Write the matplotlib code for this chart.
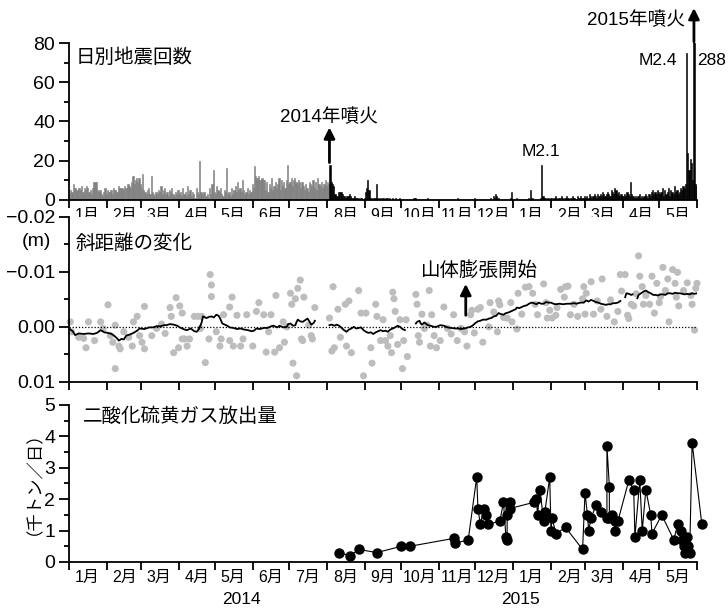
import numpy as np
import pandas as pd
import matplotlib
matplotlib.use("Agg")
import matplotlib.pyplot as plt
import matplotlib.dates as mdates
from matplotlib.ticker import FixedLocator, FixedFormatter, NullFormatter, MultipleLocator

plt.rcParams['font.family'] = ['Liberation Sans', 'Noto Sans CJK JP']

start = pd.Timestamp('2014-01-01')
end = pd.Timestamp('2015-06-01')
eruption_2014 = pd.Timestamp('2014-08-03')
eruption_2015 = pd.Timestamp('2015-05-29')

# daily earthquake counts, one list per month
q_2014_01 = [3, 5, 4, 8, 6, 6, 5, 6, 6, 5, 7, 4, 6, 5, 7, 6, 4, 5, 3, 6, 9, 9, 9, 5, 4, 5, 3, 2, 4, 6, 3]
q_2014_02 = [5, 4, 4, 5, 3, 6, 5, 5, 4, 7, 6, 6, 6, 5, 7, 6, 6, 8, 7, 6, 9, 12, 8, 10, 11, 9, 11, 8]
q_2014_03 = [6, 13, 5, 4, 3, 5, 6, 3, 12, 4, 3, 2, 4, 3, 5, 4, 7, 3, 5, 6, 3, 4, 2, 5, 4, 6, 3, 2, 4, 3, 5]
q_2014_04 = [3, 4, 2, 6, 3, 4, 2, 7, 3, 5, 2, 4, 3, 1, 6, 4, 3, 20, 4, 3, 4, 4, 2, 3, 1, 6, 3, 8, 15, 4]
q_2014_05 = [3, 7, 5, 4, 6, 3, 2, 5, 4, 16, 3, 4, 2, 6, 3, 5, 7, 4, 9, 5, 6, 4, 10, 5, 3, 4, 6, 3, 5, 4, 8]
q_2014_06 = [6, 17, 12, 11, 12, 10, 10, 11, 10, 10, 5, 9, 4, 8, 6, 11, 5, 7, 9, 6, 8, 11, 5, 10, 7, 9, 6, 10, 18, 8]
q_2014_07 = [9, 11, 7, 10, 11, 9, 8, 10, 9, 6, 9, 7, 5, 8, 6, 4, 9, 8, 7, 10, 6, 9, 5, 11, 8, 7, 9, 6, 8, 10, 7]
q_2014_08 = [9, 8, 18, 9, 8, 7, 3, 2, 2, 4, 4, 4, 3, 2, 2, 1, 2, 2, 3, 2, 1, 1, 2, 1, 1, 1, 0, 1, 1, 0, 1]
q_2014_09 = [4, 6, 10, 5, 1, 1, 0, 1, 1, 8, 1, 0, 1, 0, 1, 1, 0, 1, 1, 0, 1, 0, 1, 0, 0, 1, 0, 0, 1, 0]
q_2014_10 = [0, 0, 0, 0, 0, 0, 0, 0, 0, 0, 1, 1, 0, 0, 0, 0, 0, 0, 0, 0, 0, 1, 0, 0, 0, 0, 0, 0, 0, 0, 0]
q_2014_11 = [0, 0, 0, 0, 0, 0, 0, 0, 0, 0, 0, 0, 0, 0, 0, 1, 0, 0, 0, 0, 0, 0, 0, 0, 0, 0, 0, 0, 0, 1]
q_2014_12 = [0, 0, 0, 0, 0, 0, 0, 0, 0, 0, 0, 0, 1, 0, 2, 1, 3, 2, 1, 0, 0, 0, 0, 0, 0, 0, 0, 0, 1, 4, 0]
q_2015_01 = [0, 0, 1, 0, 0, 0, 0, 0, 0, 0, 0, 0, 1, 0, 5, 1, 0, 0, 0, 0, 0, 0, 1, 18, 2, 1, 1, 0, 1, 0, 1]
q_2015_02 = [1, 0, 1, 2, 1, 0, 1, 1, 2, 1, 0, 1, 2, 1, 1, 0, 1, 2, 1, 1, 0, 2, 1, 1, 2, 1, 1, 2]
q_2015_03 = [1, 2, 1, 3, 2, 1, 2, 3, 2, 1, 3, 2, 3, 2, 4, 3, 2, 3, 4, 3, 2, 5, 4, 3, 6, 5, 3, 4, 2, 3, 2]
q_2015_04 = [2, 3, 2, 4, 3, 2, 9, 3, 2, 1, 2, 1, 2, 3, 1, 2, 1, 2, 3, 2, 1, 3, 2, 4, 5, 3, 4, 3, 5, 4]
q_2015_05 = [3, 4, 6, 2, 5, 3, 4, 6, 2, 5, 4, 3, 7, 4, 5, 3, 4, 6, 5, 7, 6, 8, 75, 24, 15, 21, 19, 10, 288, 8, 7]

quake_months = [('2014-01', q_2014_01), ('2014-02', q_2014_02), ('2014-03', q_2014_03),
                ('2014-04', q_2014_04), ('2014-05', q_2014_05), ('2014-06', q_2014_06),
                ('2014-07', q_2014_07), ('2014-08', q_2014_08), ('2014-09', q_2014_09),
                ('2014-10', q_2014_10), ('2014-11', q_2014_11), ('2014-12', q_2014_12),
                ('2015-01', q_2015_01), ('2015-02', q_2015_02), ('2015-03', q_2015_03),
                ('2015-04', q_2015_04), ('2015-05', q_2015_05)]

# slope distance change: daily values (gray dots), days since 2014-01-01, mm
dot_day = [1, 2, 8, 12, 14, 16, 21, 26, 28, 32, 34, 36, 38, 38, 41, 42, 45, 49, 52, 53, 56, 58, 60, 62, 62, 68,
           72, 76, 79, 83, 84, 86, 88, 90, 91, 93, 93, 95, 97, 99, 103, 106, 108, 109, 112, 115, 116, 117, 117,
           121, 124, 125, 127, 132, 132, 134, 135, 138, 141, 143, 146, 151, 154, 156, 160, 162, 164, 166, 169,
           170, 173, 176, 177, 179, 182, 183, 184, 186, 187, 188, 190, 191, 192, 193, 197, 199, 200, 202,
           214, 216, 217, 218, 221, 223, 227, 228, 230, 232, 238, 240, 242,
           244, 248, 249, 252, 253, 256, 258, 260, 262, 264, 265, 266, 267, 268, 270, 272, 274, 275, 277, 278,
           285, 286, 287, 288, 290, 292, 294, 296, 297, 298, 300, 302, 305, 308, 311, 314, 316, 319, 322, 325,
           327, 330, 331, 333, 336, 338, 340, 345, 346, 349, 352, 353, 354, 357, 360, 363, 364, 368, 369, 372,
           375, 378, 381, 383, 385, 390, 392, 393, 395, 397, 400, 401, 404, 407, 408, 410, 412, 415, 418, 422,
           423, 424, 425, 429, 431, 434, 437, 438, 442, 445, 448, 451, 453, 454, 457, 459, 460, 462, 464, 466,
           468, 469, 471, 472, 474, 477, 479, 481, 483, 485, 486, 488, 490, 492, 493, 496, 498, 499, 500, 501,
           505, 508, 511, 512, 514, 515, 516]
dot_mm = [-0.9, 0.9, 1.9, 2.1, 3.8, -0.9, 2.5, -0.9, 0.3, -4.0, 1.6, 2.8, -0.3, 7.6, 3.5, 4.0, 0.9, 1.9, 3.5, -0.9,
          -1.9, 1.6, 2.8, 4.0, -3.7, 1.6,
          0.3, -0.5, 1.2, -3.5, -1.9, 4.7, -5.3, 3.8, -3.8, -2.5, 2.2, 2.2, 3.5, 2.2, -1.9, -1.9, 0.3, -1.9, 6.5,
          2.2, -9.5, -7.6, -5.5,
          0.9, 3.5, 2.2, -2.2, 2.5, -3.6, -5.4, 3.5, -2.1, 3.5, 2.2, -2.2, 3.5, -2.8, -4.4, -2.2, 4.6, 0.9, -2.2, 4.6,
          -5.7, 3.8, -0.9, 2.8, 0.0, -6.1, -4.1, 6.6, -5.1, 8.9, -7.0, -8.5, 2.2, 2.5, -5.4, -0.3, 1.6, 2.2, -3.5,
          -1.6, 4.4, -7.3, 3.8, -3.2, 1.9, -4.1, 3.5, -4.7, 4.7, -6.6, -2.5, 8.9,
          -2.5, 3.8, 6.6, -4.1, -1.9, 2.5, -1.3, 2.5, 3.5, 1.6, 4.7, -6.3, -5.1, -2.8, 3.2, -1.3, 7.6, 2.5, -1.3, 5.4,
          -5.9, -4.1, 1.6, 2.8, -2.3, 0.3, -0.3, -6.6, 3.5, -2.2, 1.6, 3.8, 2.5, -3.6, 0.3, 1.3, -2.2, 2.5, 0.3, 0.9,
          3.5, -2.2, -3.0, 1.1, -3.2, -3.5, 2.8, 0.0, -4.4, -2.7, 0.9, -4.7, -4.0, -1.7, -1.6, -4.4, -0.9, 0.4, -6.1, -2.3,
          -7.2, -7.3, -6.1, -4.1, -2.2, -7.8, -4.4, -1.6, -3.0, -1.6, -2.1, -3.5, -6.8, -5.4, -7.3, -7.4, -2.2, -4.1, -1.9, -5.1,
          -7.3, -2.3, -6.1, -8.2, -2.3, -4.7, -3.2, -8.7, -1.9, -4.9, -0.9, -2.8, -9.5, -6.5, -9.5, -2.1, -1.5, -4.1, -3.8, -6.0,
          -12.9, -9.2, -7.3, -4.1, -5.7, -4.1, -9.2, -2.5, -7.9, -4.4, -5.5, -10.8, -6.6, -8.7, -0.9, -10.4, -7.9, -5.4, -9.9, -3.8,
          -6.6, -8.0, -5.7, -4.1, 0.6, -7.0, -7.9]

# smoothed slope distance change (black line), nan = no data
line_day = [0, 3, 5, 8, 12, 16, 20, 23, 26, 29, 32, 35, 37, 39, 41, 43, 45, 47, 50, 53, 56, 58, 62, 66, 69, 72,
            75, 78, 80, 83, 86, 89, 91, 93, 95, 97, 100, 103, 105, 107, 109, 110, 113, 115, 117, 119, 121, 123,
            124, 126, 128, 130, 132, 135, 138, 141, 144, 147, 150, 152, 154, 157, 160, 163, 166, 168, 171, 173,
            176, 179, 180, 182, 184, 186, 187, 188, 190, 192, 194, 196, 198, 199, 201, 202, 208,
            214, 216, 218, 220, 222, 224, 226, 228, 230, 232, 234, 236, 238, 240, 242, 244, 246, 248, 250, 252,
            254, 256, 258, 260, 262, 264, 266, 268, 270, 272, 274, 276, 280,
            285, 286, 288, 289, 290, 292, 293, 295, 297, 300, 302, 305, 308, 311, 314, 317, 320, 322, 325, 328,
            330, 332, 334, 336, 338, 340, 343, 345, 347, 349, 351, 353, 355, 357, 359, 361, 363, 365, 367, 368,
            370, 372, 374, 376, 378, 380, 382, 384, 386, 388, 390, 392, 394, 396, 398, 400, 403, 406, 409, 412,
            415, 417, 420, 423, 425, 427, 429, 431, 433, 435, 437, 439, 441, 443, 445, 447, 449, 451, 453, 455,
            457, 458, 460, 462, 463, 465,
            467, 468, 470, 472, 474, 476, 478, 480, 482, 484, 486, 488, 490, 492, 494, 496, 498, 500, 502, 504,
            506, 508, 510, 512, 514, 516]
line_mm = [0.3, 0.8, 1.5, 1.2, 1.3, 1.2, 1.3, 1.1, 0.6, 1.0, 1.1, 1.3, 1.6, 2.0, 2.5, 2.2, 2.3, 1.6, 1.4, 1.1, 0.7,
           0.3, 0.4, 0.1, 0.1, -0.1, -0.1, -0.3, -0.3, -0.5, -0.4, -0.2, 0.1, 0.3, 0.5, 0.6, 0.3, 0.8, 0.9, 0.3,
           -0.8, -1.9, -1.6, -1.8, -1.9, -1.7, -2.2, -2.0, -1.6, -0.6, -0.4, -0.2, 0.1, 0.2, 0.4, 0.3, 0.5, 0.6,
           0.8, 0.7, 0.3, 0.4, 0.2, 0.2, -0.1, -0.2, 0.1, -0.2, 0.1, 0.0, -0.5, -0.6, -0.2, -0.3, -0.9, -1.3, -1.0,
           -0.9, -1.2, -1.5, -0.8, -0.4, -0.7, -1.1, np.nan,
           -0.3, -0.4, -0.2, -0.4, -0.2, 0.2, 0.6, 0.9, 0.5, 0.3, 0.0, 0.3, 0.2, 0.1, 0.6, 0.9, 1.1, 1.0, 1.3, 1.0,
           0.8, 0.6, 0.8, 0.7, 0.9, 0.5, 0.3, 0.1, -0.2, 0.0, 0.4, 0.6, np.nan,
           -0.6, -0.9, -1.1, -0.6, -0.4, -0.8, -0.6, -0.3, -0.2, 0.0, 0.0, -0.3, -0.2, 0.1, 0.2, 0.3, 0.3, 0.4, 0.3,
           0.1, 0.0, -0.3, -0.7, -1.0, -1.1, -1.3, -1.3, -1.5, -1.6, -1.9, -2.0, -2.5, -2.3, -2.2, -2.5, -2.6, -2.8,
           -3.0, -3.2, -3.5, -3.4, -3.6, -3.8, -3.9, -4.2, -4.4, -4.3, -4.1, -4.4, -4.2, -4.2, -4.5, -4.4, -4.4, -4.2,
           -4.1, -4.2, -4.1, -4.2, -4.2, -4.3, -4.2, -4.4, -4.4, -4.8, -4.6, -4.9, -4.7, -4.5, -4.4, -4.2, -4.1, -4.0,
           -4.1, -4.1, -4.3, -4.3, -4.4, -4.7, np.nan,
           -5.4, -6.1, -6.0, -5.8, -5.9, np.nan,
           -5.2, -5.8, -6.1, -6.4, -6.6, -6.3, -6.1, -5.8, -5.8, -5.7, -5.9, -5.9, -5.8, -6.1, -6.1, -6.0, -6.2, -6.1,
           -6.1, -6.0, -5.9, -6.0, -5.9, -6.1, -6.0, -6.1]

# sulphur dioxide emission (thousand tons per day)
so2_dates = ['2014-08-11', '2014-08-20', '2014-08-27', '2014-09-11', '2014-10-01', '2014-10-08',
             '2014-11-13', '2014-11-14', '2014-11-25', '2014-12-02', '2014-12-03', '2014-12-05',
             '2014-12-08', '2014-12-10', '2014-12-11', '2014-12-21', '2014-12-24', '2014-12-26',
             '2014-12-27', '2014-12-27', '2014-12-29', '2014-12-29', '2015-01-18', '2015-01-20',
             '2015-01-21', '2015-01-23', '2015-01-26', '2015-01-27', '2015-01-31', '2015-02-01',
             '2015-02-02', '2015-02-05', '2015-02-13', '2015-02-27', '2015-03-01', '2015-03-03',
             '2015-03-04', '2015-03-06', '2015-03-10', '2015-03-14', '2015-03-19', '2015-03-19',
             '2015-03-21', '2015-03-21', '2015-03-23', '2015-03-26', '2015-03-26', '2015-03-28',
             '2015-04-06', '2015-04-10', '2015-04-11', '2015-04-15', '2015-04-17', '2015-04-20',
             '2015-04-24', '2015-04-25', '2015-05-03', '2015-05-13', '2015-05-16', '2015-05-19',
             '2015-05-20', '2015-05-21', '2015-05-22', '2015-05-24', '2015-05-25', '2015-05-26',
             '2015-05-28', '2015-06-05']
so2_vals = [0.3, 0.2, 0.4, 0.3, 0.5, 0.5,
            0.75, 0.6, 0.7, 2.7, 1.7, 1.2,
            1.7, 1.5, 1.2, 1.3, 1.9, 0.8,
            0.7, 1.5, 1.9, 1.7, 1.9, 2.0,
            1.5, 2.3, 1.3, 1.6, 2.7, 1.0,
            1.4, 0.9, 1.1, 0.4, 2.2, 1.5,
            1.0, 1.4, 1.8, 1.6, 1.4, 3.7,
            2.4, 1.4, 1.5, 1.0, 1.3, 1.3,
            2.6, 2.3, 0.8, 2.6, 1.0, 2.3,
            1.5, 0.9, 1.5, 0.7, 1.2, 1.0,
            0.7, 0.5, 0.3, 0.8, 0.5, 0.3,
            3.8, 1.2]

month_labels = ['1月', '2月', '3月', '4月', '5月', '6月', '7月', '8月', '9月', '10月', '11月', '12月',
                '1月', '2月', '3月', '4月', '5月']


def style_axes(ax, show_labels):
    for s in ['top', 'right']:
        ax.spines[s].set_visible(False)
    for s in ['left', 'bottom']:
        ax.spines[s].set_linewidth(1.3)
    ax.set_xlim(start, end)
    months = pd.date_range(start, end, freq='MS')
    ax.xaxis.set_major_locator(FixedLocator(mdates.date2num(months)))
    ax.xaxis.set_major_formatter(NullFormatter())
    mids = months[:-1] + pd.Timedelta(days=15)
    ax.xaxis.set_minor_locator(FixedLocator(mdates.date2num(mids)))
    if show_labels:
        ax.xaxis.set_minor_formatter(FixedFormatter(month_labels))
    else:
        ax.xaxis.set_minor_formatter(NullFormatter())
    ax.tick_params(axis='x', which='major', direction='out', length=5.5, width=1.3)
    ax.tick_params(axis='x', which='minor', length=0, labelsize=11.5, pad=6)
    ax.tick_params(axis='y', which='major', direction='out', length=7, width=1.3, labelsize=14, pad=3)
    ax.tick_params(axis='y', which='minor', direction='out', length=3.5, width=1.3)


fig = plt.figure(figsize=(7.28, 6.09), dpi=100)
ax1 = fig.add_axes([0.0948, 0.672, 0.8626, 0.257])
ax2 = fig.add_axes([0.0948, 0.373, 0.8626, 0.271])
ax3 = fig.add_axes([0.0948, 0.0772, 0.8626, 0.2578])

# --- daily earthquakes
for month, vals in quake_months:
    days = pd.date_range(month + '-01', periods=len(vals), freq='D')
    vals = np.array(vals)
    before = days < eruption_2014
    ax1.bar(days[before], vals[before], width=1.0, align='edge', color='#808080',
            edgecolor='#808080', linewidth=0.4)
    ax1.bar(days[~before], vals[~before], width=1.0, align='edge', color='black',
            edgecolor='black', linewidth=0.4)
style_axes(ax1, True)
ax1.set_ylim(0, 80)
ax1.yaxis.set_major_locator(MultipleLocator(20))
ax1.yaxis.set_minor_locator(MultipleLocator(10))
ax1.text(0.01, 0.905, '日別地震回数', transform=ax1.transAxes, fontsize=14, va='center', ha='left')

ax1.annotate('', xy=(eruption_2014, 37), xytext=(eruption_2014, 19),
             arrowprops=dict(arrowstyle='-|>', lw=2, color='k', mutation_scale=16, shrinkA=0, shrinkB=0))
ax1.text(eruption_2014, 42.3, '2014年噴火', fontsize=13.5, ha='center', va='center')
ax1.annotate('', xy=(eruption_2015 + pd.Timedelta(hours=12), 98), xytext=(eruption_2015 + pd.Timedelta(hours=12), 80.7),
             arrowprops=dict(arrowstyle='-|>', lw=2, color='k', mutation_scale=16, shrinkA=0, shrinkB=0),
             annotation_clip=False)
ax1.text(pd.Timestamp('2015-05-22'), 91.7, '2015年噴火', fontsize=13.5, ha='right', va='center')
ax1.text(pd.Timestamp('2015-05-16'), 71.3, 'M2.4', fontsize=12.5, ha='right', va='center')
ax1.text(pd.Timestamp('2015-06-01'), 71.3, '288', fontsize=12.5, ha='left', va='center')
ax1.text(pd.Timestamp('2015-01-24'), 24.5, 'M2.1', fontsize=12.5, ha='center', va='center')

# --- slope distance change
dot_dates = start + pd.to_timedelta(dot_day, unit='D')
line_dates = start + pd.to_timedelta(line_day, unit='D')
ax2.scatter(dot_dates, np.array(dot_mm) / 1000, s=26, color='#bdbdbd', edgecolors='none', zorder=1, clip_on=False)
ax2.plot(line_dates, np.array(line_mm) / 1000, color='black', lw=1.3, zorder=3)
ax2.axhline(0, color='black', lw=0.9, ls=(0, (1, 1.5)), zorder=2)
style_axes(ax2, False)
ax2.set_ylim(0.01, -0.02)
ax2.set_yticks([-0.02, -0.01, 0.0, 0.01])
ax2.set_yticklabels(['\u22120.02', '\u22120.01', '0.00', '0.01'])
ax2.yaxis.set_minor_locator(MultipleLocator(0.005))
ax2.text(0.01, 0.836, '斜距離の変化', transform=ax2.transAxes, fontsize=14, va='center', ha='left')
fig.text(36 / 728, 1 - 241 / 609, '(m)', fontsize=14, ha='center', va='center')
ax2.annotate('', xy=(pd.Timestamp('2014-11-23'), -0.0078), xytext=(pd.Timestamp('2014-11-23'), -0.0021),
             arrowprops=dict(arrowstyle='-|>', lw=2, color='k', mutation_scale=16, shrinkA=0, shrinkB=0))
ax2.text(pd.Timestamp('2014-10-17'), -0.0102, '山体膨張開始', fontsize=14, ha='left', va='center')

# --- SO2 emission
ax3.plot(pd.to_datetime(so2_dates), so2_vals, '-o', color='black', lw=0.8, ms=6.5, clip_on=False)
style_axes(ax3, True)
ax3.set_ylim(0, 5)
ax3.yaxis.set_major_locator(MultipleLocator(1))
ax3.yaxis.set_minor_locator(MultipleLocator(0.5))
ax3.text(0.022, 0.924, '二酸化硫黄ガス放出量', transform=ax3.transAxes, fontsize=14, va='center', ha='left')
fig.text(25 / 728, 1 - 474 / 609, '（千トン／日）', fontsize=12.5, rotation=90, ha='center', va='center')
ax3.text(pd.Timestamp('2014-05-23'), -0.242, '2014', fontsize=12.5, ha='center', va='center',
         transform=ax3.get_xaxis_transform())
ax3.text(pd.Timestamp('2015-01-07'), -0.242, '2015', fontsize=12.5, ha='center', va='center',
         transform=ax3.get_xaxis_transform())

fig.savefig('out.png', dpi=100)
